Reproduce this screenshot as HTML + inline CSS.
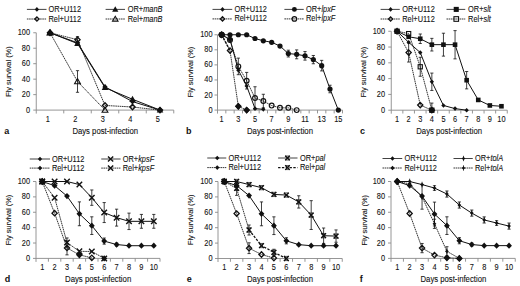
<!DOCTYPE html>
<html><head><meta charset="utf-8"><style>
html,body{margin:0;padding:0;background:#fff;}
svg{display:block;}
.t{font-family:"Liberation Sans", sans-serif;font-size:8.5px;fill:#111;stroke:#111;stroke-width:0.1px;}
.b{font-family:"Liberation Sans", sans-serif;font-size:9px;font-weight:bold;fill:#111;}
</style></head><body>
<svg width="520" height="286" viewBox="0 0 520 286">
<rect width="520" height="286" fill="#fff"/>
<g><path d="M36.25,32.75V113.6M36.25,110.1H173.75M33.25,110.1H36.25M33.25,94.63H36.25M33.25,79.16H36.25M33.25,63.69H36.25M33.25,48.22H36.25M33.25,32.75H36.25M63.75,110.1V113.4M91.25,110.1V113.4M118.75,110.1V113.4M146.25,110.1V113.4M173.75,110.1V113.4" stroke="#8a8a8a" stroke-width="0.9" fill="none"/>
<text transform="translate(30.0,112.6) scale(0.87,1)" text-anchor="end" class="t">0</text>
<text transform="translate(30.0,97.13) scale(0.87,1)" text-anchor="end" class="t">20</text>
<text transform="translate(30.0,81.66) scale(0.87,1)" text-anchor="end" class="t">40</text>
<text transform="translate(30.0,66.19) scale(0.87,1)" text-anchor="end" class="t">60</text>
<text transform="translate(30.0,50.72) scale(0.87,1)" text-anchor="end" class="t">80</text>
<text transform="translate(30.0,35.25) scale(0.87,1)" text-anchor="end" class="t">100</text>
<text transform="translate(47.7,122.3) scale(0.87,1)" text-anchor="middle" class="t">1</text>
<text transform="translate(75.2,122.3) scale(0.87,1)" text-anchor="middle" class="t">2</text>
<text transform="translate(102.7,122.3) scale(0.87,1)" text-anchor="middle" class="t">3</text>
<text transform="translate(130.2,122.3) scale(0.87,1)" text-anchor="middle" class="t">4</text>
<text transform="translate(157.7,122.3) scale(0.87,1)" text-anchor="middle" class="t">5</text>
<text x="72.4" y="134.1" textLength="65.6" lengthAdjust="spacingAndGlyphs" class="t">Days post-infection</text>
<text transform="translate(11.35,71.6) rotate(-90)" x="-25.25" y="0" textLength="50.5" lengthAdjust="spacingAndGlyphs" class="t" style="font-size:8px;stroke-width:0.1px">Fly survival (%)</text>
<text x="4.2" y="133.9" class="b">a</text>
<polyline points="50,32.75 77.5,42.81 105,86.89 132.5,101.59 160,110.1" stroke="#111" stroke-width="1.0" fill="none"/>
<polyline points="50,32.75 77.5,39.71 105,105.46 132.5,107.01 160,110.1" stroke="#111" stroke-width="0.85" stroke-dasharray="1.6 0.6" fill="none"/>
<polyline points="50,32.75 77.5,43.58 105,87.67 132.5,99.27 160,110.1" stroke="#111" stroke-width="1.0" fill="none"/>
<polyline points="50,32.75 77.5,81.48 105,110.1" stroke="#111" stroke-width="0.85" stroke-dasharray="1.6 0.6" fill="none"/>
<path d="M77.5,36.62V42.81M75.9,36.62h3.2M75.9,42.81h3.2" stroke="#111" stroke-width="0.8" fill="none"/>
<path d="M77.5,70.65V92.31M75.9,70.65h3.2M75.9,92.31h3.2" stroke="#111" stroke-width="0.8" fill="none"/>
<polygon points="50.0,30.05 52.6,32.75 50.0,35.45 47.4,32.75" fill="none" stroke="#111" stroke-width="1.3"/>
<polygon points="77.5,37.01 80.1,39.71 77.5,42.410000000000004 74.9,39.71" fill="none" stroke="#111" stroke-width="1.3"/>
<polygon points="105.0,102.75999999999999 107.6,105.46 105.0,108.16 102.4,105.46" fill="none" stroke="#111" stroke-width="1.3"/>
<polygon points="132.5,104.31 135.1,107.01 132.5,109.71000000000001 129.9,107.01" fill="none" stroke="#111" stroke-width="1.3"/>
<polygon points="160.0,107.39999999999999 162.6,110.1 160.0,112.8 157.4,110.1" fill="none" stroke="#111" stroke-width="1.3"/>
<polygon points="50.0,29.85 52.9,34.95 47.1,34.95" fill="none" stroke="#111" stroke-width="1.1"/>
<polygon points="77.5,78.58 80.4,83.68 74.6,83.68" fill="none" stroke="#111" stroke-width="1.1"/>
<polygon points="105.0,107.19999999999999 107.9,112.3 102.1,112.3" fill="none" stroke="#111" stroke-width="1.1"/>
<polygon points="50.0,29.85 52.7,32.75 50.0,35.65 47.3,32.75" fill="#111"/>
<polygon points="77.5,39.910000000000004 80.2,42.81 77.5,45.71 74.8,42.81" fill="#111"/>
<polygon points="105.0,83.99 107.7,86.89 105.0,89.79 102.3,86.89" fill="#111"/>
<polygon points="132.5,98.69 135.2,101.59 132.5,104.49000000000001 129.8,101.59" fill="#111"/>
<polygon points="160.0,107.19999999999999 162.7,110.1 160.0,113.0 157.3,110.1" fill="#111"/>
<polygon points="50.0,29.35 53.3,35.15 46.7,35.15" fill="#111"/>
<polygon points="77.5,40.18 80.8,45.98 74.2,45.98" fill="#111"/>
<polygon points="105.0,84.27 108.3,90.07000000000001 101.7,90.07000000000001" fill="#111"/>
<polygon points="132.5,95.86999999999999 135.8,101.67 129.2,101.67" fill="#111"/>
<polygon points="160.0,106.69999999999999 163.3,112.5 156.7,112.5" fill="#111"/>
<path d="M26.9,9.4H46.5" stroke="#111" stroke-width="0.8" fill="none"/>
<polygon points="36.9,7.08 39.06,9.4 36.9,11.72 34.739999999999995,9.4" fill="#111"/>
<text transform="translate(48.5,11.9) scale(0.87,1)" class="t">OR+U112</text>
<path d="M26.9,19.0H46.5" stroke="#111" stroke-width="0.85" stroke-dasharray="1.6 0.6" fill="none"/>
<polygon points="36.9,16.84 38.98,19.0 36.9,21.16 34.82,19.0" fill="none" stroke="#111" stroke-width="1.3"/>
<text transform="translate(48.5,21.5) scale(0.87,1)" class="t">Rel+U112</text>
<path d="M105.6,9.4H125" stroke="#111" stroke-width="0.8" fill="none"/>
<polygon points="115.25,6.17 118.385,11.68 112.115,11.68" fill="#111"/>
<text transform="translate(127.75,11.9) scale(0.87,1)" class="t">OR+<tspan font-style="italic">manB</tspan></text>
<path d="M105.6,19.0H125" stroke="#111" stroke-width="0.85" stroke-dasharray="1.6 0.6" fill="none"/>
<polygon points="115.25,16.245 118.005,21.09 112.495,21.09" fill="none" stroke="#111" stroke-width="1.1"/>
<text transform="translate(127.75,21.5) scale(0.87,1)" class="t">Rel+<tspan font-style="italic">manB</tspan></text></g>
<g><path d="M217.5,34.75V113.6M217.5,110.1H342.5M214.5,110.1H217.5M214.5,95.03H217.5M214.5,79.96H217.5M214.5,64.89H217.5M214.5,49.82H217.5M214.5,34.75H217.5M225.83,110.1V113.4M234.17,110.1V113.4M242.5,110.1V113.4M250.83,110.1V113.4M259.17,110.1V113.4M267.5,110.1V113.4M275.83,110.1V113.4M284.17,110.1V113.4M292.5,110.1V113.4M300.83,110.1V113.4M309.17,110.1V113.4M317.5,110.1V113.4M325.83,110.1V113.4M334.17,110.1V113.4M342.5,110.1V113.4" stroke="#8a8a8a" stroke-width="0.9" fill="none"/>
<text transform="translate(212.5,112.6) scale(0.87,1)" text-anchor="end" class="t">0</text>
<text transform="translate(212.5,97.53) scale(0.87,1)" text-anchor="end" class="t">20</text>
<text transform="translate(212.5,82.46) scale(0.87,1)" text-anchor="end" class="t">40</text>
<text transform="translate(212.5,67.39) scale(0.87,1)" text-anchor="end" class="t">60</text>
<text transform="translate(212.5,52.32) scale(0.87,1)" text-anchor="end" class="t">80</text>
<text transform="translate(212.5,37.25) scale(0.87,1)" text-anchor="end" class="t">100</text>
<text transform="translate(221.67,122.3) scale(0.87,1)" text-anchor="middle" class="t">1</text>
<text transform="translate(238.33,122.3) scale(0.87,1)" text-anchor="middle" class="t">3</text>
<text transform="translate(255,122.3) scale(0.87,1)" text-anchor="middle" class="t">5</text>
<text transform="translate(271.67,122.3) scale(0.87,1)" text-anchor="middle" class="t">7</text>
<text transform="translate(288.33,122.3) scale(0.87,1)" text-anchor="middle" class="t">9</text>
<text transform="translate(305,122.3) scale(0.87,1)" text-anchor="middle" class="t">11</text>
<text transform="translate(321.67,122.3) scale(0.87,1)" text-anchor="middle" class="t">13</text>
<text transform="translate(338.33,122.3) scale(0.87,1)" text-anchor="middle" class="t">15</text>
<text x="247" y="134.1" textLength="66" lengthAdjust="spacingAndGlyphs" class="t">Days post-infection</text>
<text transform="translate(193.0,72) rotate(-90)" x="-25.25" y="0" textLength="50.5" lengthAdjust="spacingAndGlyphs" class="t" style="font-size:8px;stroke-width:0.1px">Fly survival (%)</text>
<text x="185.95" y="133.9" class="b">b</text>
<polyline points="221.67,34.75 230,39.27 238.33,70.16 246.67,85.99 255,108.59 263.33,109.35" stroke="#111" stroke-width="1.0" fill="none"/>
<polyline points="221.67,34.75 230,50.57 238.33,106.33 246.67,110.1" stroke="#111" stroke-width="0.85" stroke-dasharray="1.6 0.6" fill="none"/>
<polyline points="221.67,34.75 230,34.75 238.33,34.75 246.67,34.75 255,38.52 263.33,40.78 271.67,42.28 280,46.05 288.33,53.59 296.67,54.34 305,55.85 313.33,59.62 321.67,65.64 330,89 338.33,110.1" stroke="#111" stroke-width="1.0" fill="none"/>
<polyline points="221.67,34.75 230,40.02 238.33,66.4 246.67,80.71 255,98.04 263.33,101.06 271.67,105.58 280,107.84 288.33,107.84 296.67,110.1" stroke="#111" stroke-width="0.85" stroke-dasharray="1.6 0.6" fill="none"/>
<path d="M288.33,50.2V56.98M286.73,50.2h3.2M286.73,56.98h3.2" stroke="#111" stroke-width="0.8" fill="none"/>
<path d="M296.67,49.9V58.79M295.07,49.9h3.2M295.07,58.79h3.2" stroke="#111" stroke-width="0.8" fill="none"/>
<path d="M305,51.55V60.14M303.4,51.55h3.2M303.4,60.14h3.2" stroke="#111" stroke-width="0.8" fill="none"/>
<path d="M313.33,55.47V63.76M311.73,55.47h3.2M311.73,63.76h3.2" stroke="#111" stroke-width="0.8" fill="none"/>
<path d="M321.67,60.37V70.92M320.07,60.37h3.2M320.07,70.92h3.2" stroke="#111" stroke-width="0.8" fill="none"/>
<path d="M330,85.23V92.77M328.4,85.23h3.2M328.4,92.77h3.2" stroke="#111" stroke-width="0.8" fill="none"/>
<path d="M238.33,58.11V74.69M236.73,58.11h3.2M236.73,74.69h3.2" stroke="#111" stroke-width="0.8" fill="none"/>
<path d="M246.67,72.42V89M245.07,72.42h3.2M245.07,89h3.2" stroke="#111" stroke-width="0.8" fill="none"/>
<path d="M255,86.74V109.35M253.4,86.74h3.2M253.4,109.35h3.2" stroke="#111" stroke-width="0.8" fill="none"/>
<path d="M263.33,94.28V107.84M261.73,94.28h3.2M261.73,107.84h3.2" stroke="#111" stroke-width="0.8" fill="none"/>
<polygon points="221.67,32.05 224.26999999999998,34.75 221.67,37.45 219.07,34.75" fill="none" stroke="#111" stroke-width="1.3"/>
<polygon points="230.0,47.87 232.6,50.57 230.0,53.27 227.4,50.57" fill="none" stroke="#111" stroke-width="1.3"/>
<polygon points="238.33,103.63 240.93,106.33 238.33,109.03 235.73000000000002,106.33" fill="none" stroke="#111" stroke-width="1.3"/>
<polygon points="246.67,107.39999999999999 249.26999999999998,110.1 246.67,112.8 244.07,110.1" fill="none" stroke="#111" stroke-width="1.3"/>
<circle cx="221.67" cy="34.75" r="2.4" fill="none" stroke="#111" stroke-width="1.15"/>
<circle cx="230.0" cy="40.02" r="2.4" fill="none" stroke="#111" stroke-width="1.15"/>
<circle cx="238.33" cy="66.4" r="2.4" fill="none" stroke="#111" stroke-width="1.15"/>
<circle cx="246.67" cy="80.71" r="2.4" fill="none" stroke="#111" stroke-width="1.15"/>
<circle cx="255.0" cy="98.04" r="2.4" fill="none" stroke="#111" stroke-width="1.15"/>
<circle cx="263.33" cy="101.06" r="2.4" fill="none" stroke="#111" stroke-width="1.15"/>
<circle cx="271.67" cy="105.58" r="2.4" fill="none" stroke="#111" stroke-width="1.15"/>
<circle cx="280.0" cy="107.84" r="2.4" fill="none" stroke="#111" stroke-width="1.15"/>
<circle cx="288.33" cy="107.84" r="2.4" fill="none" stroke="#111" stroke-width="1.15"/>
<circle cx="296.67" cy="110.1" r="2.4" fill="none" stroke="#111" stroke-width="1.15"/>
<polygon points="221.67,32.43 223.82999999999998,34.75 221.67,37.07 219.51,34.75" fill="#111"/>
<polygon points="230.0,36.95 232.16,39.27 230.0,41.59 227.84,39.27" fill="#111"/>
<polygon points="238.33,67.84 240.49,70.16 238.33,72.47999999999999 236.17000000000002,70.16" fill="#111"/>
<polygon points="246.67,83.67 248.82999999999998,85.99 246.67,88.30999999999999 244.51,85.99" fill="#111"/>
<polygon points="255.0,106.27000000000001 257.16,108.59 255.0,110.91 252.84,108.59" fill="#111"/>
<polygon points="263.33,107.03 265.49,109.35 263.33,111.66999999999999 261.16999999999996,109.35" fill="#111"/>
<circle cx="221.67" cy="34.75" r="2.6" fill="#111"/>
<circle cx="230.0" cy="34.75" r="2.6" fill="#111"/>
<circle cx="238.33" cy="34.75" r="2.6" fill="#111"/>
<circle cx="246.67" cy="34.75" r="2.6" fill="#111"/>
<circle cx="255.0" cy="38.52" r="2.6" fill="#111"/>
<circle cx="263.33" cy="40.78" r="2.6" fill="#111"/>
<circle cx="271.67" cy="42.28" r="2.6" fill="#111"/>
<circle cx="280.0" cy="46.05" r="2.6" fill="#111"/>
<circle cx="288.33" cy="53.59" r="2.6" fill="#111"/>
<circle cx="296.67" cy="54.34" r="2.6" fill="#111"/>
<circle cx="305.0" cy="55.85" r="2.6" fill="#111"/>
<circle cx="313.33" cy="59.62" r="2.6" fill="#111"/>
<circle cx="321.67" cy="65.64" r="2.6" fill="#111"/>
<circle cx="330.0" cy="89.0" r="2.6" fill="#111"/>
<circle cx="338.33" cy="110.1" r="2.6" fill="#111"/>
<path d="M221.67,34.75L230,50.57" stroke="#111" stroke-width="1.4" stroke-dasharray="2.2 1.6" fill="none"/>
<polygon points="230.0,35.935 233.105,39.27 230.0,42.605000000000004 226.895,39.27" fill="#111"/>
<circle cx="221.67" cy="34.75" r="3.1" fill="#111"/>
<polygon points="238.33,102.995 241.435,106.33 238.33,109.66499999999999 235.22500000000002,106.33" fill="#111"/>
<polygon points="246.67,106.765 249.77499999999998,110.1 246.67,113.43499999999999 243.565,110.1" fill="#111"/>
<path d="M212.5,9.4H232.25" stroke="#111" stroke-width="0.8" fill="none"/>
<polygon points="222.5,7.08 224.66,9.4 222.5,11.72 220.34,9.4" fill="#111"/>
<text transform="translate(234.4,11.9) scale(0.87,1)" class="t">OR+U112</text>
<path d="M212.5,18.9H232.25" stroke="#111" stroke-width="0.85" stroke-dasharray="1.6 0.6" fill="none"/>
<polygon points="222.5,16.74 224.58,18.9 222.5,21.06 220.42,18.9" fill="none" stroke="#111" stroke-width="1.3"/>
<text transform="translate(234.4,21.4) scale(0.87,1)" class="t">Rel+U112</text>
<path d="M284.4,9.4H303.75" stroke="#111" stroke-width="0.8" fill="none"/>
<circle cx="294.4" cy="9.4" r="2.4699999999999998" fill="#111"/>
<text transform="translate(306,11.9) scale(0.87,1)" class="t">OR+<tspan font-style="italic">lpxF</tspan></text>
<path d="M284.4,18.9H303.75" stroke="#111" stroke-width="0.85" stroke-dasharray="1.6 0.6" fill="none"/>
<circle cx="294.4" cy="18.9" r="2.28" fill="none" stroke="#111" stroke-width="1.15"/>
<text transform="translate(306,21.4) scale(0.87,1)" class="t">Rel+<tspan font-style="italic">lpxF</tspan></text></g>
<g><path d="M391.25,31.25V113.7M391.25,110.2H507.25M388.25,110.2H391.25M388.25,94.41H391.25M388.25,78.62H391.25M388.25,62.83H391.25M388.25,47.04H391.25M388.25,31.25H391.25M402.85,110.2V113.5M414.45,110.2V113.5M426.05,110.2V113.5M437.65,110.2V113.5M449.25,110.2V113.5M460.85,110.2V113.5M472.45,110.2V113.5M484.05,110.2V113.5M495.65,110.2V113.5M507.25,110.2V113.5" stroke="#8a8a8a" stroke-width="0.9" fill="none"/>
<text transform="translate(385.0,112.7) scale(0.87,1)" text-anchor="end" class="t">0</text>
<text transform="translate(385.0,96.91) scale(0.87,1)" text-anchor="end" class="t">20</text>
<text transform="translate(385.0,81.12) scale(0.87,1)" text-anchor="end" class="t">40</text>
<text transform="translate(385.0,65.33) scale(0.87,1)" text-anchor="end" class="t">60</text>
<text transform="translate(385.0,49.54) scale(0.87,1)" text-anchor="end" class="t">80</text>
<text transform="translate(385.0,33.75) scale(0.87,1)" text-anchor="end" class="t">100</text>
<text transform="translate(397.05,122.4) scale(0.87,1)" text-anchor="middle" class="t">1</text>
<text transform="translate(408.65,122.4) scale(0.87,1)" text-anchor="middle" class="t">2</text>
<text transform="translate(420.25,122.4) scale(0.87,1)" text-anchor="middle" class="t">3</text>
<text transform="translate(431.85,122.4) scale(0.87,1)" text-anchor="middle" class="t">4</text>
<text transform="translate(443.45,122.4) scale(0.87,1)" text-anchor="middle" class="t">5</text>
<text transform="translate(455.05,122.4) scale(0.87,1)" text-anchor="middle" class="t">6</text>
<text transform="translate(466.65,122.4) scale(0.87,1)" text-anchor="middle" class="t">7</text>
<text transform="translate(478.25,122.4) scale(0.87,1)" text-anchor="middle" class="t">8</text>
<text transform="translate(489.85,122.4) scale(0.87,1)" text-anchor="middle" class="t">9</text>
<text transform="translate(501.45,122.4) scale(0.87,1)" text-anchor="middle" class="t">10</text>
<text x="416.25" y="134.2" textLength="65.75" lengthAdjust="spacingAndGlyphs" class="t">Days post-infection</text>
<text transform="translate(366.4,72) rotate(-90)" x="-25.25" y="0" textLength="50.5" lengthAdjust="spacingAndGlyphs" class="t" style="font-size:8px;stroke-width:0.1px">Fly survival (%)</text>
<text x="359.95" y="134" class="b">c</text>
<polyline points="397.05,31.25 408.65,42.3 420.25,52.57 431.85,81.78 443.45,105.46 455.05,108.62 466.65,110.2" stroke="#111" stroke-width="1.0" fill="none"/>
<polyline points="397.05,31.25 408.65,52.57 420.25,105.07 431.85,110.2" stroke="#111" stroke-width="0.85" stroke-dasharray="1.6 0.6" fill="none"/>
<polyline points="397.05,31.25 408.65,36.78 420.25,38.75 431.85,44.67 443.45,44.67 455.05,44.67 466.65,80.2 478.25,99.94 489.85,105.46 501.45,106.25" stroke="#111" stroke-width="1.0" fill="none"/>
<polyline points="397.05,31.25 408.65,33.62 420.25,66.78 431.85,110.2" stroke="#111" stroke-width="0.85" stroke-dasharray="1.6 0.6" fill="none"/>
<path d="M431.85,73.09V90.46M430.25,73.09h3.2M430.25,90.46h3.2" stroke="#111" stroke-width="0.8" fill="none"/>
<path d="M408.65,43.09V62.04M407.05,43.09h3.2M407.05,62.04h3.2" stroke="#111" stroke-width="0.8" fill="none"/>
<path d="M420.25,34.01V43.49M418.65,34.01h3.2M418.65,43.49h3.2" stroke="#111" stroke-width="0.8" fill="none"/>
<path d="M431.85,38.36V50.99M430.25,38.36h3.2M430.25,50.99h3.2" stroke="#111" stroke-width="0.8" fill="none"/>
<path d="M443.45,33.22V56.12M441.85,33.22h3.2M441.85,56.12h3.2" stroke="#111" stroke-width="0.8" fill="none"/>
<path d="M455.05,30.62V58.88M453.45,30.62h3.2M453.45,58.88h3.2" stroke="#111" stroke-width="0.8" fill="none"/>
<path d="M466.65,71.51V88.88M465.05,71.51h3.2M465.05,88.88h3.2" stroke="#111" stroke-width="0.8" fill="none"/>
<path d="M420.25,57.3V76.25M418.65,57.3h3.2M418.65,76.25h3.2" stroke="#111" stroke-width="0.8" fill="none"/>
<path d="M431.85,103.09V110.2M430.25,103.09h3.2M430.25,110.2h3.2" stroke="#111" stroke-width="0.8" fill="none"/>
<polygon points="397.05,28.55 399.65000000000003,31.25 397.05,33.95 394.45,31.25" fill="none" stroke="#111" stroke-width="1.3"/>
<polygon points="408.65,49.87 411.25,52.57 408.65,55.27 406.04999999999995,52.57" fill="none" stroke="#111" stroke-width="1.3"/>
<polygon points="420.25,102.36999999999999 422.85,105.07 420.25,107.77 417.65,105.07" fill="none" stroke="#111" stroke-width="1.3"/>
<polygon points="431.85,107.5 434.45000000000005,110.2 431.85,112.9 429.25,110.2" fill="none" stroke="#111" stroke-width="1.3"/>
<rect x="394.95" y="29.15" width="4.2" height="4.2" fill="none" stroke="#111" stroke-width="1.1"/>
<rect x="406.54999999999995" y="31.519999999999996" width="4.2" height="4.2" fill="none" stroke="#111" stroke-width="1.1"/>
<rect x="418.15" y="64.68" width="4.2" height="4.2" fill="none" stroke="#111" stroke-width="1.1"/>
<rect x="429.75" y="108.10000000000001" width="4.2" height="4.2" fill="none" stroke="#111" stroke-width="1.1"/>
<polygon points="397.05,28.93 399.21000000000004,31.25 397.05,33.57 394.89,31.25" fill="#111"/>
<polygon points="408.65,39.98 410.81,42.3 408.65,44.62 406.48999999999995,42.3" fill="#111"/>
<polygon points="420.25,50.25 422.41,52.57 420.25,54.89 418.09,52.57" fill="#111"/>
<polygon points="431.85,79.46000000000001 434.01000000000005,81.78 431.85,84.1 429.69,81.78" fill="#111"/>
<polygon points="443.45,103.14 445.61,105.46 443.45,107.77999999999999 441.28999999999996,105.46" fill="#111"/>
<polygon points="455.05,106.30000000000001 457.21000000000004,108.62 455.05,110.94 452.89,108.62" fill="#111"/>
<polygon points="466.65,107.88000000000001 468.81,110.2 466.65,112.52 464.48999999999995,110.2" fill="#111"/>
<rect x="394.75" y="28.95" width="4.6" height="4.6" fill="#111"/>
<rect x="406.34999999999997" y="34.480000000000004" width="4.6" height="4.6" fill="#111"/>
<rect x="417.95" y="36.45" width="4.6" height="4.6" fill="#111"/>
<rect x="429.55" y="42.370000000000005" width="4.6" height="4.6" fill="#111"/>
<rect x="441.15" y="42.370000000000005" width="4.6" height="4.6" fill="#111"/>
<rect x="452.75" y="42.370000000000005" width="4.6" height="4.6" fill="#111"/>
<rect x="464.34999999999997" y="77.9" width="4.6" height="4.6" fill="#111"/>
<rect x="475.95" y="97.64" width="4.6" height="4.6" fill="#111"/>
<rect x="487.55" y="103.16" width="4.6" height="4.6" fill="#111"/>
<rect x="499.15" y="103.95" width="4.6" height="4.6" fill="#111"/>
<rect x="429.55" y="107.9" width="4.6" height="4.6" fill="#111"/>
<path d="M380.6,9.4H399.75" stroke="#111" stroke-width="0.8" fill="none"/>
<polygon points="390.6,7.08 392.76000000000005,9.4 390.6,11.72 388.44,9.4" fill="#111"/>
<text transform="translate(402.25,11.9) scale(0.87,1)" class="t">OR+U112</text>
<path d="M380.6,19.0H399.75" stroke="#111" stroke-width="0.85" stroke-dasharray="1.6 0.6" fill="none"/>
<polygon points="390.6,16.84 392.68,19.0 390.6,21.16 388.52000000000004,19.0" fill="none" stroke="#111" stroke-width="1.3"/>
<text transform="translate(402.25,21.5) scale(0.87,1)" class="t">Rel+U112</text>
<path d="M446.5,9.4H465.25" stroke="#111" stroke-width="0.8" fill="none"/>
<rect x="453.72" y="6.870000000000001" width="5.06" height="5.06" fill="#111"/>
<text transform="translate(468.1,11.9) scale(0.87,1)" class="t">OR+<tspan font-style="italic">slt</tspan></text>
<path d="M446.5,19.0H465.25" stroke="#111" stroke-width="0.85" stroke-dasharray="1.6 0.6" fill="none"/>
<rect x="453.94" y="16.689999999999998" width="4.620000000000001" height="4.620000000000001" fill="none" stroke="#111" stroke-width="1.1"/>
<text transform="translate(468.1,21.5) scale(0.87,1)" class="t">Rel+<tspan font-style="italic">slt</tspan></text></g>
<g><path d="M36,181.5V261.9M36,258.4H160M33,258.4H36M33,243.02H36M33,227.64H36M33,212.26H36M33,196.88H36M33,181.5H36M48.4,258.4V261.7M60.8,258.4V261.7M73.2,258.4V261.7M85.6,258.4V261.7M98,258.4V261.7M110.4,258.4V261.7M122.8,258.4V261.7M135.2,258.4V261.7M147.6,258.4V261.7M160,258.4V261.7" stroke="#8a8a8a" stroke-width="0.9" fill="none"/>
<text transform="translate(30.0,260.9) scale(0.87,1)" text-anchor="end" class="t">0</text>
<text transform="translate(30.0,245.52) scale(0.87,1)" text-anchor="end" class="t">20</text>
<text transform="translate(30.0,230.14) scale(0.87,1)" text-anchor="end" class="t">40</text>
<text transform="translate(30.0,214.76) scale(0.87,1)" text-anchor="end" class="t">60</text>
<text transform="translate(30.0,199.38) scale(0.87,1)" text-anchor="end" class="t">80</text>
<text transform="translate(30.0,184) scale(0.87,1)" text-anchor="end" class="t">100</text>
<text transform="translate(42.2,270) scale(0.87,1)" text-anchor="middle" class="t">1</text>
<text transform="translate(54.6,270) scale(0.87,1)" text-anchor="middle" class="t">2</text>
<text transform="translate(67,270) scale(0.87,1)" text-anchor="middle" class="t">3</text>
<text transform="translate(79.4,270) scale(0.87,1)" text-anchor="middle" class="t">4</text>
<text transform="translate(91.8,270) scale(0.87,1)" text-anchor="middle" class="t">5</text>
<text transform="translate(104.2,270) scale(0.87,1)" text-anchor="middle" class="t">6</text>
<text transform="translate(116.6,270) scale(0.87,1)" text-anchor="middle" class="t">7</text>
<text transform="translate(129,270) scale(0.87,1)" text-anchor="middle" class="t">8</text>
<text transform="translate(141.4,270) scale(0.87,1)" text-anchor="middle" class="t">9</text>
<text transform="translate(153.8,270) scale(0.87,1)" text-anchor="middle" class="t">10</text>
<text x="65" y="281.8" textLength="66.25" lengthAdjust="spacingAndGlyphs" class="t">Days post-infection</text>
<text transform="translate(11.05,220) rotate(-90)" x="-25.25" y="0" textLength="50.5" lengthAdjust="spacingAndGlyphs" class="t" style="font-size:8px;stroke-width:0.1px">Fly survival (%)</text>
<text x="4.7" y="281.6" class="b">d</text>
<polyline points="42.2,181.5 54.6,185.65 67,196.11 79.4,213.8 91.8,225.64 104.2,241.1 116.6,244.56 129,245.71 141.4,245.71 153.8,245.71" stroke="#111" stroke-width="1.0" fill="none"/>
<polyline points="42.2,181.5 54.6,213.18 67,247.94 79.4,254.86 91.8,257.86" stroke="#111" stroke-width="0.85" stroke-dasharray="1.6 0.6" fill="none"/>
<polyline points="42.2,181.5 54.6,181.5 67,181.5 79.4,184.58 91.8,197.65 104.2,212.57 116.6,217.64 129,221.33 141.4,221.33 153.8,221.33" stroke="#111" stroke-width="1.0" fill="none"/>
<polyline points="42.2,181.5 54.6,197.65 67,242.56 79.4,251.33 91.8,251.48 104.2,258.4" stroke="#111" stroke-width="0.85" stroke-dasharray="1.6 0.6" fill="none"/>
<path d="M79.4,201.88V225.72M77.8,201.88h3.2M77.8,225.72h3.2" stroke="#111" stroke-width="0.8" fill="none"/>
<path d="M91.8,216.8V234.48M90.2,216.8h3.2M90.2,234.48h3.2" stroke="#111" stroke-width="0.8" fill="none"/>
<path d="M104.2,238.02V244.17M102.6,238.02h3.2M102.6,244.17h3.2" stroke="#111" stroke-width="0.8" fill="none"/>
<path d="M116.6,243.02V246.1M115,243.02h3.2M115,246.1h3.2" stroke="#111" stroke-width="0.8" fill="none"/>
<path d="M67,241.02V254.86M65.4,241.02h3.2M65.4,254.86h3.2" stroke="#111" stroke-width="0.8" fill="none"/>
<path d="M91.8,189.96V205.34M90.2,189.96h3.2M90.2,205.34h3.2" stroke="#111" stroke-width="0.8" fill="none"/>
<path d="M104.2,202.57V222.56M102.6,202.57h3.2M102.6,222.56h3.2" stroke="#111" stroke-width="0.8" fill="none"/>
<path d="M116.6,209.18V226.1M115,209.18h3.2M115,226.1h3.2" stroke="#111" stroke-width="0.8" fill="none"/>
<path d="M129,213.11V229.56M127.4,213.11h3.2M127.4,229.56h3.2" stroke="#111" stroke-width="0.8" fill="none"/>
<path d="M141.4,214.41V228.26M139.8,214.41h3.2M139.8,228.26h3.2" stroke="#111" stroke-width="0.8" fill="none"/>
<path d="M153.8,214.41V228.26M152.2,214.41h3.2M152.2,228.26h3.2" stroke="#111" stroke-width="0.8" fill="none"/>
<path d="M67,237.94V247.17M65.4,237.94h3.2M65.4,247.17h3.2" stroke="#111" stroke-width="0.8" fill="none"/>
<polygon points="42.2,178.8 44.800000000000004,181.5 42.2,184.2 39.6,181.5" fill="none" stroke="#111" stroke-width="1.3"/>
<polygon points="54.6,210.48000000000002 57.2,213.18 54.6,215.88 52.0,213.18" fill="none" stroke="#111" stroke-width="1.3"/>
<polygon points="67.0,245.24 69.6,247.94 67.0,250.64 64.4,247.94" fill="none" stroke="#111" stroke-width="1.3"/>
<polygon points="79.4,252.16000000000003 82.0,254.86 79.4,257.56 76.80000000000001,254.86" fill="none" stroke="#111" stroke-width="1.3"/>
<polygon points="91.8,255.16000000000003 94.39999999999999,257.86 91.8,260.56 89.2,257.86" fill="none" stroke="#111" stroke-width="1.3"/>
<path d="M39.45,178.75L44.95,184.25M39.45,184.25L44.95,178.75" stroke="#111" stroke-width="1.4"/>
<path d="M51.85,194.9L57.35,200.4M51.85,200.4L57.35,194.9" stroke="#111" stroke-width="1.4"/>
<path d="M64.25,239.81L69.75,245.31M64.25,245.31L69.75,239.81" stroke="#111" stroke-width="1.4"/>
<path d="M76.65,248.58L82.15,254.08M76.65,254.08L82.15,248.58" stroke="#111" stroke-width="1.4"/>
<path d="M89.05,248.73L94.55,254.23M89.05,254.23L94.55,248.73" stroke="#111" stroke-width="1.4"/>
<path d="M101.45,255.64999999999998L106.95,261.15M101.45,261.15L106.95,255.64999999999998" stroke="#111" stroke-width="1.4"/>
<path d="M39.45,178.75L44.95,184.25M39.45,184.25L44.95,178.75" stroke="#111" stroke-width="1.4"/>
<path d="M51.85,178.75L57.35,184.25M51.85,184.25L57.35,178.75" stroke="#111" stroke-width="1.4"/>
<path d="M64.25,178.75L69.75,184.25M64.25,184.25L69.75,178.75" stroke="#111" stroke-width="1.4"/>
<path d="M76.65,181.83L82.15,187.33M76.65,187.33L82.15,181.83" stroke="#111" stroke-width="1.4"/>
<path d="M89.05,194.9L94.55,200.4M89.05,200.4L94.55,194.9" stroke="#111" stroke-width="1.4"/>
<path d="M101.45,209.82L106.95,215.32M101.45,215.32L106.95,209.82" stroke="#111" stroke-width="1.4"/>
<path d="M113.85,214.89L119.35,220.39M113.85,220.39L119.35,214.89" stroke="#111" stroke-width="1.4"/>
<path d="M126.25,218.58L131.75,224.08M126.25,224.08L131.75,218.58" stroke="#111" stroke-width="1.4"/>
<path d="M138.65,218.58L144.15,224.08M138.65,224.08L144.15,218.58" stroke="#111" stroke-width="1.4"/>
<path d="M151.05,218.58L156.55,224.08M151.05,224.08L156.55,218.58" stroke="#111" stroke-width="1.4"/>
<polygon points="42.2,178.368 45.116,181.5 42.2,184.632 39.284000000000006,181.5" fill="#111"/>
<polygon points="54.6,182.518 57.516000000000005,185.65 54.6,188.782 51.684,185.65" fill="#111"/>
<polygon points="67.0,192.978 69.916,196.11 67.0,199.24200000000002 64.084,196.11" fill="#111"/>
<polygon points="79.4,210.668 82.316,213.8 79.4,216.93200000000002 76.48400000000001,213.8" fill="#111"/>
<polygon points="91.8,222.50799999999998 94.716,225.64 91.8,228.772 88.884,225.64" fill="#111"/>
<polygon points="104.2,237.968 107.116,241.1 104.2,244.232 101.284,241.1" fill="#111"/>
<polygon points="116.6,241.428 119.51599999999999,244.56 116.6,247.692 113.684,244.56" fill="#111"/>
<polygon points="129.0,242.578 131.916,245.71 129.0,248.842 126.084,245.71" fill="#111"/>
<polygon points="141.4,242.578 144.316,245.71 141.4,248.842 138.484,245.71" fill="#111"/>
<polygon points="153.8,242.578 156.716,245.71 153.8,248.842 150.88400000000001,245.71" fill="#111"/>
<polygon points="42.2,178.02 45.440000000000005,181.5 42.2,184.98 38.96,181.5" fill="#111"/>
<polygon points="104.2,255.20999999999998 107.17,258.4 104.2,261.59 101.23,258.4" fill="#111"/>
<polygon points="79.4,251.96 82.10000000000001,254.86 79.4,257.76 76.7,254.86" fill="#111"/>
<path d="M29.75,159.0H50" stroke="#111" stroke-width="0.8" fill="none"/>
<polygon points="40,156.68 42.16,159.0 40,161.32 37.84,159.0" fill="#111"/>
<text transform="translate(51.9,161.5) scale(0.87,1)" class="t">OR+U112</text>
<path d="M29.75,168.1H50" stroke="#111" stroke-width="0.85" stroke-dasharray="1.6 0.6" fill="none"/>
<polygon points="40,165.78 42.16,168.1 40,170.42 37.84,168.1" fill="#111"/>
<text transform="translate(51.9,170.6) scale(0.87,1)" class="t">Rel+U112</text>
<path d="M101.25,159.0H120.6" stroke="#111" stroke-width="0.8" fill="none"/>
<path d="M107.9875,156.3875L113.21249999999999,161.6125M107.9875,161.6125L113.21249999999999,156.3875" stroke="#111" stroke-width="1.4"/>
<text transform="translate(122.75,161.5) scale(0.87,1)" class="t">OR+<tspan font-style="italic">kpsF</tspan></text>
<path d="M101.25,168.1H120.6" stroke="#111" stroke-width="0.85" stroke-dasharray="1.6 0.6" fill="none"/>
<path d="M107.9875,165.48749999999998L113.21249999999999,170.7125M107.9875,170.7125L113.21249999999999,165.48749999999998" stroke="#111" stroke-width="1.4"/>
<text transform="translate(122.75,170.6) scale(0.87,1)" class="t">Rel+<tspan font-style="italic">kpsF</tspan></text></g>
<g><path d="M218,181.5V262M218,258.5H342.25M215,258.5H218M215,243.1H218M215,227.7H218M215,212.3H218M215,196.9H218M215,181.5H218M230.43,258.5V261.8M242.85,258.5V261.8M255.28,258.5V261.8M267.7,258.5V261.8M280.12,258.5V261.8M292.55,258.5V261.8M304.98,258.5V261.8M317.4,258.5V261.8M329.82,258.5V261.8M342.25,258.5V261.8" stroke="#8a8a8a" stroke-width="0.9" fill="none"/>
<text transform="translate(212.5,261) scale(0.87,1)" text-anchor="end" class="t">0</text>
<text transform="translate(212.5,245.6) scale(0.87,1)" text-anchor="end" class="t">20</text>
<text transform="translate(212.5,230.2) scale(0.87,1)" text-anchor="end" class="t">40</text>
<text transform="translate(212.5,214.8) scale(0.87,1)" text-anchor="end" class="t">60</text>
<text transform="translate(212.5,199.4) scale(0.87,1)" text-anchor="end" class="t">80</text>
<text transform="translate(212.5,184) scale(0.87,1)" text-anchor="end" class="t">100</text>
<text transform="translate(224.21,270.1) scale(0.87,1)" text-anchor="middle" class="t">1</text>
<text transform="translate(236.64,270.1) scale(0.87,1)" text-anchor="middle" class="t">2</text>
<text transform="translate(249.06,270.1) scale(0.87,1)" text-anchor="middle" class="t">3</text>
<text transform="translate(261.49,270.1) scale(0.87,1)" text-anchor="middle" class="t">4</text>
<text transform="translate(273.91,270.1) scale(0.87,1)" text-anchor="middle" class="t">5</text>
<text transform="translate(286.34,270.1) scale(0.87,1)" text-anchor="middle" class="t">6</text>
<text transform="translate(298.76,270.1) scale(0.87,1)" text-anchor="middle" class="t">7</text>
<text transform="translate(311.19,270.1) scale(0.87,1)" text-anchor="middle" class="t">8</text>
<text transform="translate(323.61,270.1) scale(0.87,1)" text-anchor="middle" class="t">9</text>
<text transform="translate(336.04,270.1) scale(0.87,1)" text-anchor="middle" class="t">10</text>
<text x="247" y="281.9" textLength="66" lengthAdjust="spacingAndGlyphs" class="t">Days post-infection</text>
<text transform="translate(193.1,219.8) rotate(-90)" x="-25.25" y="0" textLength="50.5" lengthAdjust="spacingAndGlyphs" class="t" style="font-size:8px;stroke-width:0.1px">Fly survival (%)</text>
<text x="186.7" y="281.7" class="b">e</text>
<polyline points="224.21,181.5 236.64,185.58 249.06,195.59 261.49,213.84 273.91,225.7 286.34,240.79 298.76,244.64 311.19,245.72 323.61,245.72 336.04,245.72" stroke="#111" stroke-width="1.0" fill="none"/>
<polyline points="224.21,181.5 236.64,213.53 249.06,248.18 261.49,254.5 273.91,258.12" stroke="#111" stroke-width="0.85" stroke-dasharray="1.6 0.6" fill="none"/>
<polyline points="224.21,181.5 236.64,181.5 249.06,184.58 261.49,187.66 273.91,194.44 286.34,195.05 298.76,201.91 311.19,215.07 323.61,235.71 336.04,236.09" stroke="#111" stroke-width="1.0" fill="none"/>
<polyline points="224.21,181.5 236.64,188.43 249.06,230.01" stroke="#111" stroke-width="0.85" stroke-dasharray="1.6 0.6" fill="none"/>
<polyline points="249.06,230.01 261.49,245.56 273.91,252.34 286.34,258.5" stroke="#111" stroke-width="1.3" stroke-dasharray="2.4 1.4" fill="none"/>
<path d="M261.49,201.91V225.78M259.89,201.91h3.2M259.89,225.78h3.2" stroke="#111" stroke-width="0.8" fill="none"/>
<path d="M273.91,216.84V234.55M272.31,216.84h3.2M272.31,234.55h3.2" stroke="#111" stroke-width="0.8" fill="none"/>
<path d="M286.34,237.71V243.87M284.74,237.71h3.2M284.74,243.87h3.2" stroke="#111" stroke-width="0.8" fill="none"/>
<path d="M249.06,242.79V253.57M247.46,242.79h3.2M247.46,253.57h3.2" stroke="#111" stroke-width="0.8" fill="none"/>
<path d="M298.76,195.75V208.06M297.16,195.75h3.2M297.16,208.06h3.2" stroke="#111" stroke-width="0.8" fill="none"/>
<path d="M311.19,200.67V229.47M309.59,200.67h3.2M309.59,229.47h3.2" stroke="#111" stroke-width="0.8" fill="none"/>
<path d="M323.61,228.01V243.41M322.01,228.01h3.2M322.01,243.41h3.2" stroke="#111" stroke-width="0.8" fill="none"/>
<path d="M336.04,229.93V242.25M334.44,229.93h3.2M334.44,242.25h3.2" stroke="#111" stroke-width="0.8" fill="none"/>
<path d="M236.64,181.5V195.36M235.04,181.5h3.2M235.04,195.36h3.2" stroke="#111" stroke-width="0.8" fill="none"/>
<path d="M249.06,225V235.01M247.46,225h3.2M247.46,235.01h3.2" stroke="#111" stroke-width="0.8" fill="none"/>
<path d="M273.91,249.26V255.42M272.31,249.26h3.2M272.31,255.42h3.2" stroke="#111" stroke-width="0.8" fill="none"/>
<polygon points="224.21,178.8 226.81,181.5 224.21,184.2 221.61,181.5" fill="none" stroke="#111" stroke-width="1.3"/>
<polygon points="236.64,210.83 239.23999999999998,213.53 236.64,216.23 234.04,213.53" fill="none" stroke="#111" stroke-width="1.3"/>
<polygon points="249.06,245.48000000000002 251.66,248.18 249.06,250.88 246.46,248.18" fill="none" stroke="#111" stroke-width="1.3"/>
<polygon points="261.49,251.8 264.09000000000003,254.5 261.49,257.2 258.89,254.5" fill="none" stroke="#111" stroke-width="1.3"/>
<polygon points="273.91,255.42000000000002 276.51000000000005,258.12 273.91,260.82 271.31,258.12" fill="none" stroke="#111" stroke-width="1.3"/>
<path d="M221.81,179.1L226.61,183.9M221.81,183.9L226.61,179.1" stroke="#111" stroke-width="1.4"/><path d="M221.81,179.4H226.61M221.81,183.6H226.61" stroke="#111" stroke-width="0.7"/>
<path d="M234.23999999999998,186.03L239.04,190.83M234.23999999999998,190.83L239.04,186.03" stroke="#111" stroke-width="1.4"/><path d="M234.23999999999998,186.33H239.04M234.23999999999998,190.53H239.04" stroke="#111" stroke-width="0.7"/>
<path d="M246.66,227.60999999999999L251.46,232.41M246.66,232.41L251.46,227.60999999999999" stroke="#111" stroke-width="1.4"/><path d="M246.66,227.91H251.46M246.66,232.10999999999999H251.46" stroke="#111" stroke-width="0.7"/>
<path d="M259.09000000000003,243.16L263.89,247.96M259.09000000000003,247.96L263.89,243.16" stroke="#111" stroke-width="1.4"/><path d="M259.09000000000003,243.46H263.89M259.09000000000003,247.66H263.89" stroke="#111" stroke-width="0.7"/>
<path d="M271.51000000000005,249.94L276.31,254.74M271.51000000000005,254.74L276.31,249.94" stroke="#111" stroke-width="1.4"/><path d="M271.51000000000005,250.24H276.31M271.51000000000005,254.44H276.31" stroke="#111" stroke-width="0.7"/>
<path d="M283.94,256.1L288.73999999999995,260.9M283.94,260.9L288.73999999999995,256.1" stroke="#111" stroke-width="1.4"/><path d="M283.94,256.40000000000003H288.73999999999995M283.94,260.59999999999997H288.73999999999995" stroke="#111" stroke-width="0.7"/>
<path d="M221.81,179.1L226.61,183.9M221.81,183.9L226.61,179.1" stroke="#111" stroke-width="1.4"/><path d="M221.81,179.4H226.61M221.81,183.6H226.61" stroke="#111" stroke-width="0.7"/>
<path d="M234.23999999999998,179.1L239.04,183.9M234.23999999999998,183.9L239.04,179.1" stroke="#111" stroke-width="1.4"/><path d="M234.23999999999998,179.4H239.04M234.23999999999998,183.6H239.04" stroke="#111" stroke-width="0.7"/>
<path d="M246.66,182.18L251.46,186.98000000000002M246.66,186.98000000000002L251.46,182.18" stroke="#111" stroke-width="1.4"/><path d="M246.66,182.48000000000002H251.46M246.66,186.68H251.46" stroke="#111" stroke-width="0.7"/>
<path d="M259.09000000000003,185.26L263.89,190.06M259.09000000000003,190.06L263.89,185.26" stroke="#111" stroke-width="1.4"/><path d="M259.09000000000003,185.56H263.89M259.09000000000003,189.76H263.89" stroke="#111" stroke-width="0.7"/>
<path d="M271.51000000000005,192.04L276.31,196.84M271.51000000000005,196.84L276.31,192.04" stroke="#111" stroke-width="1.4"/><path d="M271.51000000000005,192.34H276.31M271.51000000000005,196.54H276.31" stroke="#111" stroke-width="0.7"/>
<path d="M283.94,192.65L288.73999999999995,197.45000000000002M283.94,197.45000000000002L288.73999999999995,192.65" stroke="#111" stroke-width="1.4"/><path d="M283.94,192.95000000000002H288.73999999999995M283.94,197.15H288.73999999999995" stroke="#111" stroke-width="0.7"/>
<path d="M296.36,199.51L301.15999999999997,204.31M296.36,204.31L301.15999999999997,199.51" stroke="#111" stroke-width="1.4"/><path d="M296.36,199.81H301.15999999999997M296.36,204.01H301.15999999999997" stroke="#111" stroke-width="0.7"/>
<path d="M308.79,212.67L313.59,217.47M308.79,217.47L313.59,212.67" stroke="#111" stroke-width="1.4"/><path d="M308.79,212.97H313.59M308.79,217.17H313.59" stroke="#111" stroke-width="0.7"/>
<path d="M321.21000000000004,233.31L326.01,238.11M321.21000000000004,238.11L326.01,233.31" stroke="#111" stroke-width="1.4"/><path d="M321.21000000000004,233.61H326.01M321.21000000000004,237.81H326.01" stroke="#111" stroke-width="0.7"/>
<path d="M333.64000000000004,233.69L338.44,238.49M333.64000000000004,238.49L338.44,233.69" stroke="#111" stroke-width="1.4"/><path d="M333.64000000000004,233.99H338.44M333.64000000000004,238.19H338.44" stroke="#111" stroke-width="0.7"/>
<polygon points="224.21,178.368 227.126,181.5 224.21,184.632 221.294,181.5" fill="#111"/>
<polygon points="236.64,182.448 239.55599999999998,185.58 236.64,188.71200000000002 233.724,185.58" fill="#111"/>
<polygon points="249.06,192.458 251.976,195.59 249.06,198.722 246.144,195.59" fill="#111"/>
<polygon points="261.49,210.708 264.406,213.84 261.49,216.972 258.574,213.84" fill="#111"/>
<polygon points="273.91,222.56799999999998 276.826,225.7 273.91,228.832 270.994,225.7" fill="#111"/>
<polygon points="286.34,237.658 289.256,240.79 286.34,243.922 283.424,240.79" fill="#111"/>
<polygon points="298.76,241.50799999999998 301.676,244.64 298.76,247.772 295.844,244.64" fill="#111"/>
<polygon points="311.19,242.588 314.106,245.72 311.19,248.852 308.274,245.72" fill="#111"/>
<polygon points="323.61,242.588 326.526,245.72 323.61,248.852 320.694,245.72" fill="#111"/>
<polygon points="336.04,242.588 338.956,245.72 336.04,248.852 333.124,245.72" fill="#111"/>
<polygon points="224.21,178.02 227.45000000000002,181.5 224.21,184.98 220.97,181.5" fill="#111"/>
<path d="M207.25,158.0H226.25" stroke="#111" stroke-width="0.8" fill="none"/>
<polygon points="217.25,155.68 219.41,158.0 217.25,160.32 215.09,158.0" fill="#111"/>
<text transform="translate(228.5,160.5) scale(0.87,1)" class="t">OR+U112</text>
<path d="M207.25,167.6H226.25" stroke="#111" stroke-width="0.85" stroke-dasharray="1.6 0.6" fill="none"/>
<polygon points="217.25,165.28 219.41,167.6 217.25,169.92 215.09,167.6" fill="#111"/>
<text transform="translate(228.5,170.1) scale(0.87,1)" class="t">Rel+U112</text>
<path d="M278.1,158.0H297.5" stroke="#111" stroke-width="0.8" fill="none"/>
<path d="M285.22,155.72L289.78,160.28M285.22,160.28L289.78,155.72" stroke="#111" stroke-width="1.4"/><path d="M285.22,156.02H289.78M285.22,159.98H289.78" stroke="#111" stroke-width="0.7"/>
<text transform="translate(300,160.5) scale(0.87,1)" class="t">OR+<tspan font-style="italic">pal</tspan></text>
<path d="M278.1,167.6H297.5" stroke="#111" stroke-width="1.1" stroke-dasharray="2.4 1.4" fill="none"/>
<path d="M285.22,165.32L289.78,169.88M285.22,169.88L289.78,165.32" stroke="#111" stroke-width="1.4"/><path d="M285.22,165.62H289.78M285.22,169.57999999999998H289.78" stroke="#111" stroke-width="0.7"/>
<text transform="translate(300,170.1) scale(0.87,1)" class="t">Rel+<tspan font-style="italic">pal</tspan></text></g>
<g><path d="M391,181.5V261.9M391,258.4H515.25M388,258.4H391M388,243.02H391M388,227.64H391M388,212.26H391M388,196.88H391M388,181.5H391M403.43,258.4V261.7M415.85,258.4V261.7M428.27,258.4V261.7M440.7,258.4V261.7M453.12,258.4V261.7M465.55,258.4V261.7M477.98,258.4V261.7M490.4,258.4V261.7M502.82,258.4V261.7M515.25,258.4V261.7" stroke="#8a8a8a" stroke-width="0.9" fill="none"/>
<text transform="translate(385.0,260.9) scale(0.87,1)" text-anchor="end" class="t">0</text>
<text transform="translate(385.0,245.52) scale(0.87,1)" text-anchor="end" class="t">20</text>
<text transform="translate(385.0,230.14) scale(0.87,1)" text-anchor="end" class="t">40</text>
<text transform="translate(385.0,214.76) scale(0.87,1)" text-anchor="end" class="t">60</text>
<text transform="translate(385.0,199.38) scale(0.87,1)" text-anchor="end" class="t">80</text>
<text transform="translate(385.0,184) scale(0.87,1)" text-anchor="end" class="t">100</text>
<text transform="translate(397.21,270) scale(0.87,1)" text-anchor="middle" class="t">1</text>
<text transform="translate(409.64,270) scale(0.87,1)" text-anchor="middle" class="t">2</text>
<text transform="translate(422.06,270) scale(0.87,1)" text-anchor="middle" class="t">3</text>
<text transform="translate(434.49,270) scale(0.87,1)" text-anchor="middle" class="t">4</text>
<text transform="translate(446.91,270) scale(0.87,1)" text-anchor="middle" class="t">5</text>
<text transform="translate(459.34,270) scale(0.87,1)" text-anchor="middle" class="t">6</text>
<text transform="translate(471.76,270) scale(0.87,1)" text-anchor="middle" class="t">7</text>
<text transform="translate(484.19,270) scale(0.87,1)" text-anchor="middle" class="t">8</text>
<text transform="translate(496.61,270) scale(0.87,1)" text-anchor="middle" class="t">9</text>
<text transform="translate(509.04,270) scale(0.87,1)" text-anchor="middle" class="t">10</text>
<text x="420.5" y="281.8" textLength="65.75" lengthAdjust="spacingAndGlyphs" class="t">Days post-infection</text>
<text transform="translate(366.59999999999997,220.2) rotate(-90)" x="-25.25" y="0" textLength="50.5" lengthAdjust="spacingAndGlyphs" class="t" style="font-size:8px;stroke-width:0.1px">Fly survival (%)</text>
<text x="359.7" y="281.6" class="b">f</text>
<polyline points="397.21,181.5 409.64,185.58 422.06,196.11 434.49,214.03 446.91,225.64 459.34,240.71 471.76,244.56 484.19,245.63 496.61,245.63 509.04,245.63" stroke="#111" stroke-width="1.0" fill="none"/>
<polyline points="397.21,181.5 409.64,213.49 422.06,248.1 434.49,255.09 446.91,257.78 459.34,258.4" stroke="#111" stroke-width="0.85" stroke-dasharray="1.6 0.6" fill="none"/>
<polyline points="397.21,181.5 409.64,181.5 422.06,184.58 434.49,188.04 446.91,194.03 459.34,205.03 471.76,213.11 484.19,219.95 496.61,223.03 509.04,226.1" stroke="#111" stroke-width="1.0" fill="none"/>
<polyline points="397.21,181.5 409.64,183.81 422.06,196.88 434.49,223.79 446.91,251.33 459.34,258.4" stroke="#111" stroke-width="0.85" stroke-dasharray="1.6 0.6" fill="none"/>
<path d="M434.49,202.11V225.95M432.89,202.11h3.2M432.89,225.95h3.2" stroke="#111" stroke-width="0.8" fill="none"/>
<path d="M446.91,216.8V234.48M445.31,216.8h3.2M445.31,234.48h3.2" stroke="#111" stroke-width="0.8" fill="none"/>
<path d="M459.34,237.64V243.79M457.74,237.64h3.2M457.74,243.79h3.2" stroke="#111" stroke-width="0.8" fill="none"/>
<path d="M471.76,243.02V246.1M470.16,243.02h3.2M470.16,246.1h3.2" stroke="#111" stroke-width="0.8" fill="none"/>
<path d="M422.06,243.48V252.71M420.46,243.48h3.2M420.46,252.71h3.2" stroke="#111" stroke-width="0.8" fill="none"/>
<path d="M434.49,185.73V190.34M432.89,185.73h3.2M432.89,190.34h3.2" stroke="#111" stroke-width="0.8" fill="none"/>
<path d="M446.91,190.96V197.11M445.31,190.96h3.2M445.31,197.11h3.2" stroke="#111" stroke-width="0.8" fill="none"/>
<path d="M459.34,201.96V208.11M457.74,201.96h3.2M457.74,208.11h3.2" stroke="#111" stroke-width="0.8" fill="none"/>
<path d="M471.76,210.03V216.18M470.16,210.03h3.2M470.16,216.18h3.2" stroke="#111" stroke-width="0.8" fill="none"/>
<path d="M484.19,216.87V223.03M482.59,216.87h3.2M482.59,223.03h3.2" stroke="#111" stroke-width="0.8" fill="none"/>
<path d="M496.61,220.72V225.33M495.01,220.72h3.2M495.01,225.33h3.2" stroke="#111" stroke-width="0.8" fill="none"/>
<path d="M509.04,223.03V229.18M507.44,223.03h3.2M507.44,229.18h3.2" stroke="#111" stroke-width="0.8" fill="none"/>
<path d="M422.06,184.58V209.18M420.46,184.58h3.2M420.46,209.18h3.2" stroke="#111" stroke-width="0.8" fill="none"/>
<path d="M434.49,219.18V228.41M432.89,219.18h3.2M432.89,228.41h3.2" stroke="#111" stroke-width="0.8" fill="none"/>
<path d="M446.91,246.71V255.94M445.31,246.71h3.2M445.31,255.94h3.2" stroke="#111" stroke-width="0.8" fill="none"/>
<polygon points="397.21,178.8 399.81,181.5 397.21,184.2 394.60999999999996,181.5" fill="none" stroke="#111" stroke-width="1.3"/>
<polygon points="409.64,210.79000000000002 412.24,213.49 409.64,216.19 407.03999999999996,213.49" fill="none" stroke="#111" stroke-width="1.3"/>
<polygon points="422.06,245.4 424.66,248.1 422.06,250.79999999999998 419.46,248.1" fill="none" stroke="#111" stroke-width="1.3"/>
<polygon points="434.49,252.39000000000001 437.09000000000003,255.09 434.49,257.79 431.89,255.09" fill="none" stroke="#111" stroke-width="1.3"/>
<polygon points="446.91,255.07999999999998 449.51000000000005,257.78 446.91,260.47999999999996 444.31,257.78" fill="none" stroke="#111" stroke-width="1.3"/>
<polygon points="459.34,255.7 461.94,258.4 459.34,261.09999999999997 456.73999999999995,258.4" fill="none" stroke="#111" stroke-width="1.3"/>
<polygon points="397.21,179.6 399.10999999999996,181.5 397.21,183.4 395.31,181.5" fill="#111"/><path d="M397.21,178.7V184.3" stroke="#111" stroke-width="0.8"/>
<polygon points="409.64,181.91 411.53999999999996,183.81 409.64,185.71 407.74,183.81" fill="#111"/><path d="M409.64,181.01V186.61" stroke="#111" stroke-width="0.8"/>
<polygon points="422.06,194.98 423.96,196.88 422.06,198.78 420.16,196.88" fill="#111"/><path d="M422.06,194.07999999999998V199.68" stroke="#111" stroke-width="0.8"/>
<polygon points="434.49,221.89 436.39,223.79 434.49,225.69 432.59000000000003,223.79" fill="#111"/><path d="M434.49,220.98999999999998V226.59" stroke="#111" stroke-width="0.8"/>
<polygon points="446.91,249.43 448.81,251.33 446.91,253.23000000000002 445.01000000000005,251.33" fill="#111"/><path d="M446.91,248.53V254.13000000000002" stroke="#111" stroke-width="0.8"/>
<polygon points="459.34,256.5 461.23999999999995,258.4 459.34,260.29999999999995 457.44,258.4" fill="#111"/><path d="M459.34,255.59999999999997V261.2" stroke="#111" stroke-width="0.8"/>
<polygon points="397.21,179.6 399.10999999999996,181.5 397.21,183.4 395.31,181.5" fill="#111"/><path d="M397.21,178.7V184.3" stroke="#111" stroke-width="0.8"/>
<polygon points="409.64,179.6 411.53999999999996,181.5 409.64,183.4 407.74,181.5" fill="#111"/><path d="M409.64,178.7V184.3" stroke="#111" stroke-width="0.8"/>
<polygon points="422.06,182.68 423.96,184.58 422.06,186.48000000000002 420.16,184.58" fill="#111"/><path d="M422.06,181.78V187.38000000000002" stroke="#111" stroke-width="0.8"/>
<polygon points="434.49,186.14 436.39,188.04 434.49,189.94 432.59000000000003,188.04" fill="#111"/><path d="M434.49,185.23999999999998V190.84" stroke="#111" stroke-width="0.8"/>
<polygon points="446.91,192.13 448.81,194.03 446.91,195.93 445.01000000000005,194.03" fill="#111"/><path d="M446.91,191.23V196.83" stroke="#111" stroke-width="0.8"/>
<polygon points="459.34,203.13 461.23999999999995,205.03 459.34,206.93 457.44,205.03" fill="#111"/><path d="M459.34,202.23V207.83" stroke="#111" stroke-width="0.8"/>
<polygon points="471.76,211.21 473.65999999999997,213.11 471.76,215.01000000000002 469.86,213.11" fill="#111"/><path d="M471.76,210.31V215.91000000000003" stroke="#111" stroke-width="0.8"/>
<polygon points="484.19,218.04999999999998 486.09,219.95 484.19,221.85 482.29,219.95" fill="#111"/><path d="M484.19,217.14999999999998V222.75" stroke="#111" stroke-width="0.8"/>
<polygon points="496.61,221.13 498.51,223.03 496.61,224.93 494.71000000000004,223.03" fill="#111"/><path d="M496.61,220.23V225.83" stroke="#111" stroke-width="0.8"/>
<polygon points="509.04,224.2 510.94,226.1 509.04,228.0 507.14000000000004,226.1" fill="#111"/><path d="M509.04,223.29999999999998V228.9" stroke="#111" stroke-width="0.8"/>
<polygon points="397.21,178.368 400.126,181.5 397.21,184.632 394.294,181.5" fill="#111"/>
<polygon points="409.64,182.448 412.556,185.58 409.64,188.71200000000002 406.724,185.58" fill="#111"/>
<polygon points="422.06,192.978 424.976,196.11 422.06,199.24200000000002 419.144,196.11" fill="#111"/>
<polygon points="434.49,210.898 437.406,214.03 434.49,217.162 431.574,214.03" fill="#111"/>
<polygon points="446.91,222.50799999999998 449.826,225.64 446.91,228.772 443.994,225.64" fill="#111"/>
<polygon points="459.34,237.578 462.256,240.71 459.34,243.842 456.424,240.71" fill="#111"/>
<polygon points="471.76,241.428 474.676,244.56 471.76,247.692 468.844,244.56" fill="#111"/>
<polygon points="484.19,242.498 487.106,245.63 484.19,248.762 481.274,245.63" fill="#111"/>
<polygon points="496.61,242.498 499.526,245.63 496.61,248.762 493.694,245.63" fill="#111"/>
<polygon points="509.04,242.498 511.956,245.63 509.04,248.762 506.124,245.63" fill="#111"/>
<polygon points="397.21,178.02 400.45,181.5 397.21,184.98 393.96999999999997,181.5" fill="#111"/>
<polygon points="459.34,255.355 462.17499999999995,258.4 459.34,261.445 456.505,258.4" fill="#111"/>
<polygon points="446.91,255.16999999999996 449.34000000000003,257.78 446.91,260.39 444.48,257.78" fill="#111"/>
<path d="M382.5,158.5H402.25" stroke="#111" stroke-width="0.8" fill="none"/>
<polygon points="392.5,156.18 394.66,158.5 392.5,160.82 390.34,158.5" fill="#111"/>
<text transform="translate(404.4,161) scale(0.87,1)" class="t">OR+U112</text>
<path d="M382.5,168.0H402.25" stroke="#111" stroke-width="0.85" stroke-dasharray="1.6 0.6" fill="none"/>
<polygon points="392.5,165.68 394.66,168.0 392.5,170.32 390.34,168.0" fill="#111"/>
<text transform="translate(404.4,170.5) scale(0.87,1)" class="t">Rel+U112</text>
<path d="M453.5,158.5H472.75" stroke="#111" stroke-width="0.8" fill="none"/>
<polygon points="463.5,156.695 465.305,158.5 463.5,160.305 461.695,158.5" fill="#111"/><path d="M463.5,155.84V161.16" stroke="#111" stroke-width="0.8"/>
<text transform="translate(475,161) scale(0.87,1)" class="t">OR+<tspan font-style="italic">tolA</tspan></text>
<path d="M453.5,168.0H472.75" stroke="#111" stroke-width="0.85" stroke-dasharray="1.6 0.6" fill="none"/>
<polygon points="463.5,166.195 465.305,168.0 463.5,169.805 461.695,168.0" fill="#111"/><path d="M463.5,165.34V170.66" stroke="#111" stroke-width="0.8"/>
<text transform="translate(475,170.5) scale(0.87,1)" class="t">Rel+<tspan font-style="italic">tolA</tspan></text></g>
</svg></body></html>
